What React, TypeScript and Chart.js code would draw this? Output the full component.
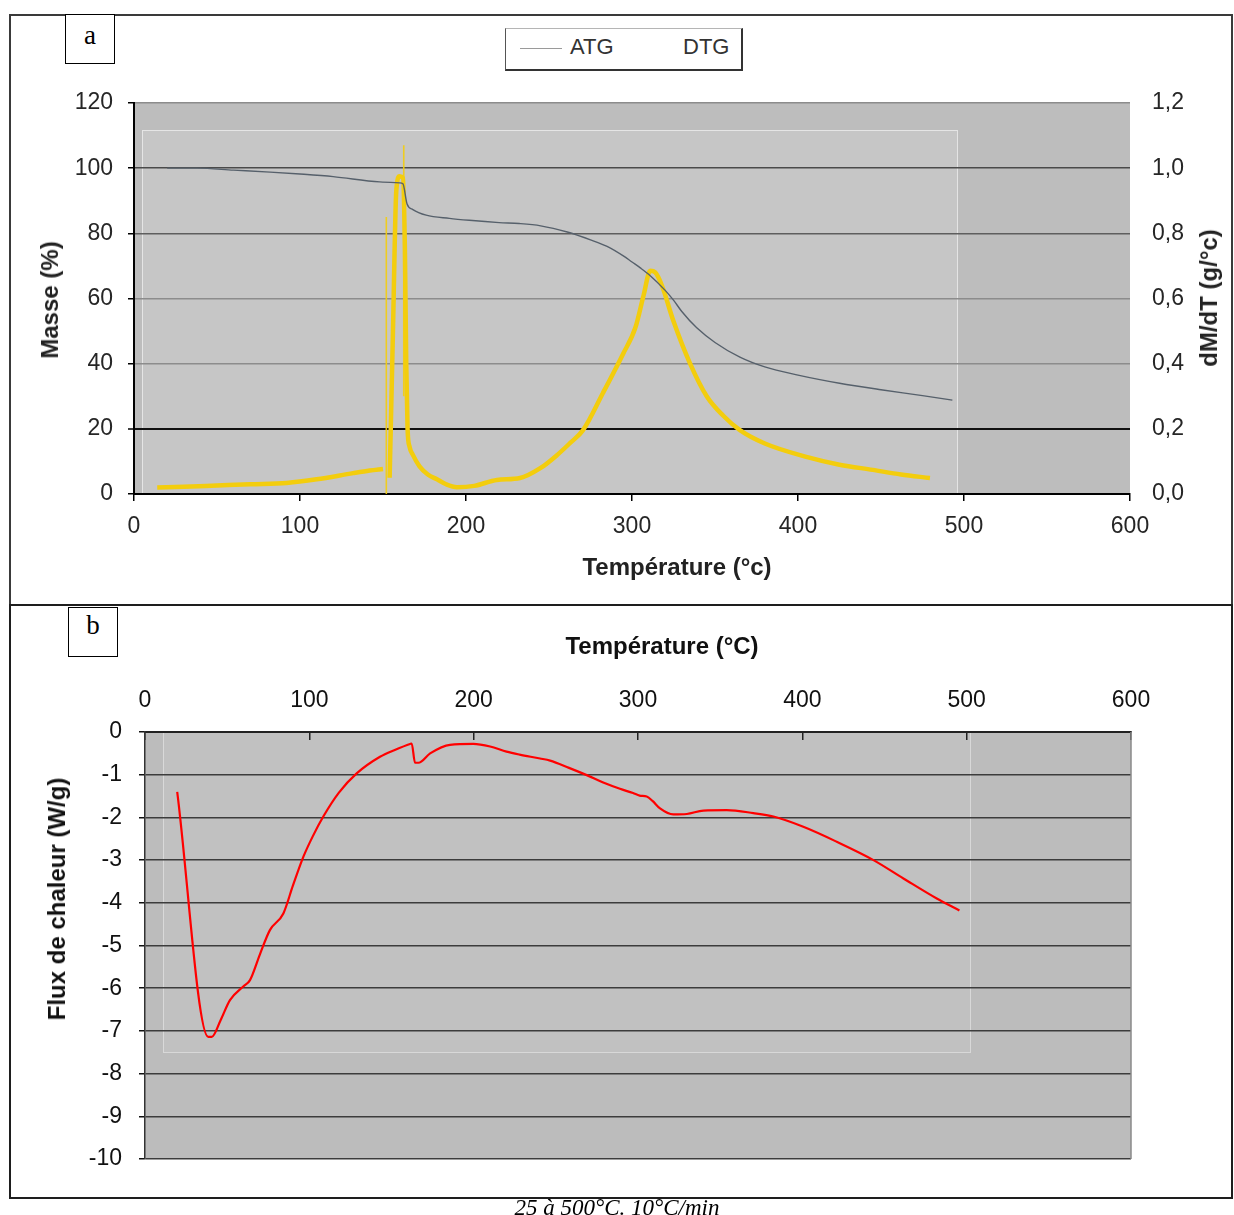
import React, { useEffect, useRef } from "react";
import { Chart, registerables } from "chart.js";

Chart.register(...registerables);

// ---------- Panel a : ATG (mass %) ----------
const atgTemp = [20, 38, 60, 82, 100, 120, 148, 160, 162, 164.5, 168, 176, 190, 202, 220, 232, 245, 261, 275, 285, 295, 300, 305, 311, 320, 325, 330, 339, 350, 365, 380, 400, 425, 450, 475, 493];
const atgMass = [100, 100, 99.4, 98.8, 98.2, 97.4, 95.8, 95.5, 95.2, 89, 87.3, 85.6, 84.6, 84, 83.3, 83, 82.3, 80.4, 78, 76, 73, 71.2, 69.4, 67, 62.5, 59.5, 56, 51, 46.5, 42, 39, 36.5, 34, 32, 30.2, 28.8];

// ---------- Panel a : DTG (g/°C) ----------
const dtgTemp = [14, 30, 50, 70, 92, 110, 132, 142, 150, 151, 154, 156, 158, 160, 162, 163.2, 164, 164.8, 166, 168, 172, 177, 182.5, 188, 194.5, 205, 218.6, 232.5, 245, 255, 262.6, 270.5, 282.5, 294.6, 302, 307, 311, 314, 318, 325, 335, 345, 355, 365, 380, 405, 425, 445, 462, 479.5];
const dtgRate = [0.02, 0.022, 0.026, 0.03, 0.034, 0.045, 0.064, 0.072, 0.077, null, 0.05, 0.5, 0.93, 0.975, 0.97, 0.75, 0.4, 0.2, 0.145, 0.12, 0.085, 0.06, 0.045, 0.03, 0.021, 0.025, 0.043, 0.049, 0.08, 0.12, 0.156, 0.196, 0.31, 0.43, 0.51, 0.61, 0.685, 0.68, 0.64, 0.53, 0.4, 0.3, 0.24, 0.196, 0.155, 0.114, 0.09, 0.074, 0.06, 0.049];
// thin vertical traces of the DTG record
const dtgSpikeTemp = [152, 152, 152.5, 162.5, 162.5];
const dtgSpikeRate = [0.85, 0, null, 1.07, 0.3];

// ---------- Panel b : DSC heat flow (W/g) ----------
const dscTemp = [19.6, 38.5, 40.6, 46, 51.7, 59.8, 63.9, 70, 76, 84.2, 90, 96.4, 102, 108.5, 118, 128.8, 143, 152, 161.3, 162.3, 164.3, 166.4, 173.5, 185.6, 199.8, 210, 220, 228, 240.4, 246.5, 258, 268.8, 280, 289, 297, 301, 305.3, 309, 313.4, 321.5, 329.7, 339.8, 354, 370.2, 382.4, 400.6, 420.9, 443.3, 461.5, 481.8, 495.6];
const dscFlux = [-1.4, -7.14, -7.14, -6.75, -6.28, -5.96, -5.81, -5.2, -4.64, -4.25, -3.6, -2.92, -2.45, -1.98, -1.42, -0.97, -0.58, -0.42, -0.28, -0.27, -0.72, -0.72, -0.5, -0.3, -0.28, -0.34, -0.46, -0.53, -0.62, -0.67, -0.84, -1.01, -1.2, -1.33, -1.43, -1.49, -1.51, -1.62, -1.79, -1.93, -1.92, -1.84, -1.83, -1.9, -1.98, -2.22, -2.57, -3.0, -3.43, -3.9, -4.18];

// ---------- axis ranges / tick labels ----------
const tempTicks = [0, 100, 200, 300, 400, 500, 600];
const massRange = [0, 120];
const dtgRange = [0, 1.2];
const fluxRange = [-10, 0];

const SANS = "'Liberation Sans', Arial, Helvetica, sans-serif";
const SERIF = "'Liberation Serif', 'Times New Roman', serif";

const pts = (xs: number[], ys: (number | null)[]) => xs.map((x, i) => ({ x, y: ys[i] }));

function bgPlugin(o: any) {
  return {
    id: "plotBg" + o.key,
    beforeDraw(chart: any) {
      const { ctx, chartArea: a, scales } = chart;
      ctx.save();
      ctx.fillStyle = o.outer;
      ctx.fillRect(a.left, a.top, a.right - a.left, a.bottom - a.top);
      const xs = scales.x;
      const ys = scales[o.yId];
      const l = Math.round(xs.getPixelForValue(o.x0));
      const r = Math.round(xs.getPixelForValue(o.x1));
      const t = Math.round(ys.getPixelForValue(o.y0));
      const b = Math.round(ys.getPixelForValue(o.y1));
      ctx.fillStyle = o.inner;
      ctx.fillRect(l, t, r - l, b - t);
      ctx.strokeStyle = o.edge;
      ctx.lineWidth = 1;
      ctx.strokeRect(l + 0.5, t + 0.5, r - l, b - t);
      ctx.restore();
    },
    afterDraw(chart: any) {
      if (!o.rightEdge) return;
      const { ctx, chartArea: a } = chart;
      ctx.save();
      ctx.strokeStyle = o.rightEdge;
      ctx.lineWidth = 1.5;
      ctx.beginPath();
      ctx.moveTo(a.right, a.top);
      ctx.lineTo(a.right, a.bottom);
      ctx.stroke();
      ctx.restore();
    },
  };
}

function configA(): any {
  const tickFont = { family: SANS, size: 23 };
  const gridColor = (c: any) => {
    const v = c.tick && c.tick.value;
    if (v === 20) return "#111111";
    if (v === 100) return "#4a4a4a";
    if (v === 80) return "#5e5e5e";
    if (v === 0) return "rgba(0,0,0,0)";
    return "#8c8c8c";
  };
  return {
    type: "line",
    data: {
      datasets: [
        {
          label: "ATG",
          data: pts(atgTemp, atgMass),
          yAxisID: "y",
          borderColor: "#56606b",
          borderWidth: 1.4,
          pointRadius: 0,
          cubicInterpolationMode: "monotone",
        },
        {
          label: "DTG",
          data: pts(dtgTemp, dtgRate),
          yAxisID: "y1",
          borderColor: "#f3cd0d",
          borderWidth: 4.5,
          pointRadius: 0,
          spanGaps: false,
          cubicInterpolationMode: "monotone",
        },
        {
          label: "DTG trace",
          data: pts(dtgSpikeTemp, dtgSpikeRate),
          yAxisID: "y1",
          borderColor: "rgba(243,205,13,0.9)",
          borderWidth: 1.6,
          pointRadius: 0,
          spanGaps: false,
          tension: 0,
        },
      ],
    },
    options: {
      animation: false,
      responsive: false,
      maintainAspectRatio: false,
      layout: { padding: { top: 103, left: 0, right: 0, bottom: 0 } },
      plugins: { legend: { display: false }, tooltip: { enabled: false } },
      scales: {
        x: {
          type: "linear",
          position: "bottom",
          min: tempTicks[0],
          max: tempTicks[tempTicks.length - 1],
          ticks: { stepSize: 100, font: tickFont, color: "#262626", padding: 12, maxRotation: 0 },
          grid: { drawOnChartArea: false, tickLength: 7, color: "#000", tickColor: "#000", lineWidth: 1.5 },
          border: { color: "#000", width: 2 },
          afterFit: (s: any) => { s.height = 111; },
        },
        y: {
          position: "left",
          min: massRange[0],
          max: massRange[1],
          ticks: { stepSize: 20, font: tickFont, color: "#262626", padding: 15 },
          grid: { color: gridColor, lineWidth: (c: any) => (c.tick && c.tick.value === 20 ? 2 : 1.5), tickLength: 6, tickColor: "#000", tickWidth: 1.5 },
          border: { color: "#000", width: 2 },
          afterFit: (s: any) => { s.width = 134; },
        },
        y1: {
          position: "right",
          min: dtgRange[0],
          max: dtgRange[1],
          ticks: {
            stepSize: 0.2,
            font: tickFont,
            color: "#262626",
            padding: 22,
            callback: (v: any) => Number(v).toFixed(1).replace(".", ","),
          },
          grid: { display: false, drawTicks: false },
          border: { display: false },
          afterFit: (s: any) => { s.width = 104; },
        },
      },
    },
    plugins: [
      bgPlugin({ key: "a", yId: "y", outer: "#bdbdbd", inner: "#c6c6c6", edge: "rgba(232,232,232,0.9)", x0: 5, x1: 496, y0: 111.7, y1: 0 }),
    ],
  };
}

function configB(): any {
  const tickFont = { family: SANS, size: 23 };
  return {
    type: "line",
    data: {
      datasets: [
        {
          label: "Flux de chaleur",
          data: pts(dscTemp, dscFlux),
          borderColor: "#ff0000",
          borderWidth: 2.2,
          pointRadius: 0,
          cubicInterpolationMode: "monotone",
        },
      ],
    },
    options: {
      animation: false,
      responsive: false,
      maintainAspectRatio: false,
      layout: { padding: { top: 0, left: 0, right: 103, bottom: 56 } },
      plugins: { legend: { display: false }, tooltip: { enabled: false } },
      scales: {
        x: {
          type: "linear",
          position: "top",
          min: tempTicks[0],
          max: tempTicks[tempTicks.length - 1],
          ticks: { stepSize: 100, font: tickFont, color: "#111", padding: 26, maxRotation: 0 },
          grid: { drawOnChartArea: false, tickLength: -8, color: "#222", tickColor: "#222", lineWidth: 1.5 },
          border: { color: "#222", width: 2 },
          afterFit: (s: any) => { s.height = 127; },
        },
        y: {
          position: "left",
          min: fluxRange[0],
          max: fluxRange[1],
          ticks: { stepSize: 1, font: tickFont, color: "#111", padding: 17 },
          grid: { color: "#3c3c3c", lineWidth: 1.5, tickLength: 6, tickColor: "#111", tickWidth: 1.5 },
          border: { color: "#333", width: 1.5 },
          afterFit: (s: any) => { s.width = 145; },
        },
      },
    },
    plugins: [
      bgPlugin({ key: "b", yId: "y", outer: "#bcbcbc", inner: "#c1c1c1", edge: "rgba(222,222,222,0.8)", x0: 11, x1: 502, y0: 0, y1: -7.5, rightEdge: "#8a8a8a" }),
    ],
  };
}

const abs = (o: any): any => ({ position: "absolute", ...o });

function VTitle(props: { text: string; cx: number; cy: number; size: number; color: string }) {
  return (
    <div
      style={abs({
        left: props.cx,
        top: props.cy,
        transform: "translate(-50%, -50%) rotate(-90deg)",
        whiteSpace: "nowrap",
        fontFamily: SANS,
        fontWeight: "bold",
        fontSize: props.size,
        lineHeight: 1,
        color: props.color,
      })}
    >
      {props.text}
    </div>
  );
}

function HTitle(props: { text: string; cx: number; cy: number; size: number; color: string }) {
  return (
    <div
      style={abs({
        left: props.cx,
        top: props.cy,
        transform: "translate(-50%, -50%)",
        whiteSpace: "nowrap",
        fontFamily: SANS,
        fontWeight: "bold",
        fontSize: props.size,
        lineHeight: 1,
        color: props.color,
      })}
    >
      {props.text}
    </div>
  );
}

export default function App() {
  const refA = useRef<HTMLCanvasElement>(null);
  const refB = useRef<HTMLCanvasElement>(null);

  useEffect(() => {
    const a = new Chart(refA.current as HTMLCanvasElement, configA());
    const b = new Chart(refB.current as HTMLCanvasElement, configB());
    return () => {
      a.destroy();
      b.destroy();
    };
  }, []);

  return (
    <div style={abs({ left: 0, top: 0, width: 1234, height: 1215, background: "#fff", overflow: "hidden" })}>
      <canvas ref={refA} width={1234} height={605} style={abs({ left: 0, top: 0, width: 1234, height: 605 })} />
      <canvas ref={refB} width={1234} height={610} style={abs({ left: 0, top: 605, width: 1234, height: 610 })} />

      {/* panel frames */}
      <div style={abs({ left: 9, top: 14, width: 1224, height: 592, border: "2px solid #3a3a3a", boxSizing: "border-box", pointerEvents: "none" })} />
      <div style={abs({ left: 9, top: 604, width: 1224, height: 595, border: "2px solid #1e1e1e", boxSizing: "border-box", pointerEvents: "none" })} />

      {/* panel letters */}
      <div style={abs({ left: 65, top: 14, width: 50, height: 50, border: "1.5px solid #000", boxSizing: "border-box", background: "#fff", fontFamily: SERIF, fontSize: 27, lineHeight: "40px", textAlign: "center", color: "#000" })}>a</div>
      <div style={abs({ left: 68, top: 607, width: 50, height: 50, border: "1.5px solid #000", boxSizing: "border-box", background: "#fff", fontFamily: SERIF, fontSize: 27, lineHeight: "34px", textAlign: "center", color: "#000" })}>b</div>

      {/* legend of panel a */}
      <div style={abs({ left: 505, top: 28, width: 238, height: 43, background: "#fff", boxSizing: "border-box", borderTop: "1px solid #b5b5b5", borderLeft: "1px solid #555", borderRight: "2px solid #333", borderBottom: "2px solid #333" })}>
        <div style={abs({ left: 14, top: 19, width: 42, height: 1, background: "#9a9a9a" })} />
        <div style={abs({ left: 64, top: 7, fontFamily: SANS, fontSize: 22, lineHeight: 1, color: "#333" })}>ATG</div>
        <div style={abs({ left: 177, top: 7, fontFamily: SANS, fontSize: 22, lineHeight: 1, color: "#333" })}>DTG</div>
      </div>

      {/* axis titles, panel a */}
      <VTitle text="Masse (%)" cx={50} cy={300} size={24} color="#222" />
      <VTitle text="dM/dT (g/°c)" cx={1209} cy={298} size={24} color="#222" />
      <HTitle text="Température (°c)" cx={677} cy={567} size={24} color="#222" />

      {/* axis titles, panel b */}
      <HTitle text="Température (°C)" cx={662} cy={646} size={24} color="#111" />
      <VTitle text="Flux de chaleur (W/g)" cx={57} cy={899} size={24} color="#111" />

      {/* caption */}
      <div style={abs({ left: 0, width: 1234, top: 1196, textAlign: "center", fontFamily: SERIF, fontStyle: "italic", fontSize: 23, lineHeight: 1, color: "#000" })}>
        25 à 500°C. 10°C/min
      </div>
    </div>
  );
}
